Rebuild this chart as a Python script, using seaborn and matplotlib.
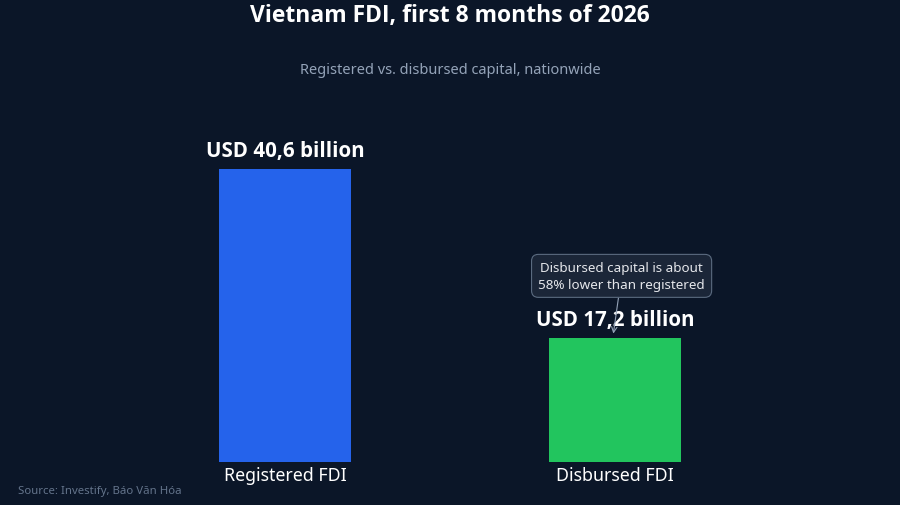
import matplotlib
matplotlib.use("Agg")
import matplotlib.pyplot as plt
import pandas as pd
import seaborn as sns

categories = ["Registered FDI", "Disbursed FDI"]
values = [40.6, 17.2]
value_labels = ["USD 40,6 billion", "USD 17,2 billion"]
bar_colors = ["#2563eb", "#22c55e"]

BG = "#0b1628"
BOLD_FONT = ["Open Sans", "Noto Sans", "DejaVu Sans"]

sns.set_theme(style="dark")
plt.rcParams["font.family"] = ["Noto Sans", "DejaVu Sans"]

fig = plt.figure(figsize=(9, 5.06), dpi=100, facecolor=BG)
ax = fig.add_axes([120 / 900, 1 - 463 / 506, 660 / 900, 373 / 506])
ax.set_facecolor(BG)

df = pd.DataFrame({"category": categories, "value": values})
sns.barplot(
    data=df,
    x="category",
    y="value",
    hue="category",
    palette=bar_colors,
    width=0.4,
    legend=False,
    saturation=1,
    linewidth=0,
    ax=ax,
)

ax.set_xlim(-0.5, 1.5)
ax.set_ylim(0, 51.7)
ax.set_yticks([])
ax.set_xlabel("")
ax.set_ylabel("")
ax.tick_params(axis="x", colors="white", labelsize=12.8, length=0, pad=3)
for spine in ax.spines.values():
    spine.set_visible(False)
ax.grid(False)

# value labels above bars
for i, (v, lab) in enumerate(zip(values, value_labels)):
    ax.annotate(
        lab,
        xy=(i, v),
        xytext=(0, 6),
        textcoords="offset points",
        ha="center",
        va="bottom",
        color="white",
        fontsize=14.8,
        fontweight="bold",
        family=BOLD_FONT,
    )

# callout on the disbursed bar
ax.annotate(
    "Disbursed capital is about\n58% lower than registered",
    xy=(0.995, 17.8),
    xytext=(1.02, 25.8),
    ha="center",
    va="center",
    color="#e5e7eb",
    fontsize=9.7,
    linespacing=1.35,
    bbox=dict(boxstyle="round,pad=0.5", fc="#1b2638", ec="#5b6b80", lw=0.8),
    arrowprops=dict(arrowstyle="->", color="#94a3b8", lw=0.8, shrinkA=0, shrinkB=0),
)

fig.text(0.5, 1 - 16 / 506, "Vietnam FDI, first 8 months of 2026",
         ha="center", va="center", color="white", fontsize=16.5,
         fontweight="bold", family=BOLD_FONT)
fig.text(0.5, 1 - 71 / 506, "Registered vs. disbursed capital, nationwide",
         ha="center", va="center", color="#94a3b8", fontsize=10.5)
fig.text(18 / 900, 1 - 492 / 506, "Source: Investify, Báo Văn Hóa",
         ha="left", va="center", color="#64748b", fontsize=8.2)

fig.savefig("out.png", dpi=100, facecolor=BG)
